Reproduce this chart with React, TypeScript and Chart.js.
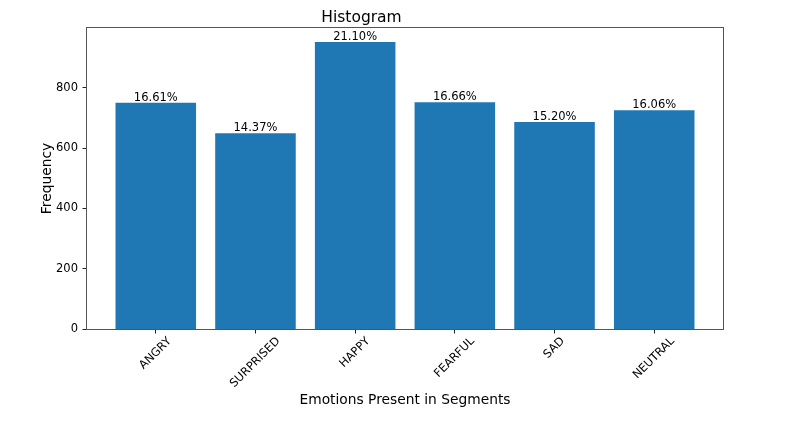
import React, { useEffect, useRef } from "react";
import { Chart, registerables } from "chart.js";

Chart.register(...registerables);

const categories = ["ANGRY", "SURPRISED", "HAPPY", "FEARFUL", "SAD", "NEUTRAL"];
const frequencies = [749, 648, 951, 751, 685, 724];
const yTickValues = [0, 200, 400, 600, 800];
const chartTitle = "Histogram";
const xAxisTitle = "Emotions Present in Segments";
const yAxisTitle = "Frequency";

const FONT = "'DejaVu Sans', 'Liberation Sans', sans-serif";
const BAR_COLOR = "#1f77b4";

export default function App() {
  const ref = useRef<HTMLCanvasElement>(null);

  useEffect(() => {
    const canvas = ref.current;
    if (!canvas) return;
    const total = frequencies.reduce((a, b) => a + b, 0);
    const n = categories.length;
    const xMargin = (n - 1 + 0.8) * 0.05;
    const xMin = -0.4 - xMargin;
    const xMax = n - 1 + 0.4 + xMargin;
    const yMax = Math.max(...frequencies) * 1.05;

    const framePlugin = {
      id: "frame",
      afterDatasetsDraw(chart: any) {
        const { ctx, chartArea: a } = chart;
        ctx.save();
        ctx.strokeStyle = "#555";
        ctx.lineWidth = 1;
        ctx.strokeRect(a.left - 0.5, a.top - 0.5, a.right - a.left + 1, a.bottom - a.top + 1);
        ctx.restore();
      },
    };

    const valueLabelPlugin = {
      id: "valueLabels",
      afterDatasetsDraw(chart: any) {
        const { ctx } = chart;
        const meta = chart.getDatasetMeta(0);
        const fs = 11.5;
        ctx.save();
        ctx.font = `${fs}px ${FONT}`;
        ctx.fillStyle = "#000";
        ctx.textAlign = "center";
        ctx.textBaseline = "alphabetic";
        meta.data.forEach((bar: any, i: number) => {
          const pct = ((frequencies[i] / total) * 100).toFixed(2) + "%";
          ctx.fillText(pct, bar.x, bar.y - 0.236 * fs);
        });
        ctx.restore();
      },
    };

    const xLabelPlugin = {
      id: "xLabels",
      afterDraw(chart: any) {
        const { ctx, chartArea } = chart;
        const xs = chart.scales.x;
        const fs = 11.5;
        ctx.save();
        ctx.font = `${fs}px ${FONT}`;
        ctx.fillStyle = "#000";
        ctx.textAlign = "center";
        ctx.textBaseline = "alphabetic";
        categories.forEach((c, i) => {
          const px = xs.getPixelForValue(i);
          const w = ctx.measureText(c).width;
          const h = 1.164 * fs;
          const d = (w + h) * Math.SQRT1_2;
          const cy = chartArea.bottom + 5 + d / 2;
          ctx.save();
          ctx.translate(px - 1, cy);
          ctx.rotate(-Math.PI / 4);
          ctx.fillText(c, 0, 0.346 * fs);
          ctx.restore();
        });
        ctx.restore();
      },
    };

    const gridOpts = {
      drawOnChartArea: false,
      drawTicks: true,
      tickLength: 4.5,
      tickColor: "#222",
      lineWidth: 1,
      offset: false,
    };

    const chart = new Chart(canvas, {
      type: "bar",
      data: {
        datasets: [
          {
            data: frequencies.map((v, i) => ({ x: i, y: v })),
            backgroundColor: BAR_COLOR,
            borderWidth: 0,
            inflateAmount: 0.4,
            categoryPercentage: 1,
            barPercentage: 0.8,
          },
        ],
      },
      options: {
        responsive: false,
        animation: false,
        devicePixelRatio: 1,
        layout: { padding: { left: 0, right: 83, top: 0, bottom: 0 } },
        plugins: {
          legend: { display: false },
          tooltip: { enabled: false },
          title: {
            display: true,
            text: chartTitle,
            color: "#000",
            font: { family: FONT, size: 15.5, weight: "normal", lineHeight: "18px" },
            padding: { top: 9, bottom: 1 },
          },
        },
        scales: {
          x: {
            type: "linear",
            position: "bottom",
            offset: false,
            min: xMin,
            max: xMax,
            afterBuildTicks: (s: any) => {
              s.ticks = categories.map((_, i) => ({ value: i }));
            },
            afterFit: (s: any) => {
              s.height = 101;
            },
            ticks: { display: false },
            grid: gridOpts,
            border: { display: false },
            title: {
              display: true,
              text: xAxisTitle,
              color: "#000",
              font: { family: FONT, size: 13.8, weight: "normal" },
              padding: { top: 0, bottom: 21.5 },
            },
          },
          y: {
            type: "linear",
            min: 0,
            max: yMax,
            afterBuildTicks: (s: any) => {
              s.ticks = yTickValues.map((v) => ({ value: v }));
            },
            afterFit: (s: any) => {
              s.width = 87;
            },
            ticks: {
              color: "#000",
              font: { family: FONT, size: 11.5 },
              padding: 4.5,
            },
            grid: gridOpts,
            border: { display: false },
            title: {
              display: true,
              text: yAxisTitle,
              color: "#000",
              font: { family: FONT, size: 13.8, weight: "normal" },
              padding: { top: 39, bottom: 0 },
            },
          },
        },
      },
      plugins: [framePlugin, valueLabelPlugin, xLabelPlugin],
    } as any);

    return () => chart.destroy();
  }, []);

  return (
    <div style={{ position: "absolute", left: 0, top: 0, width: 806, height: 430, background: "#fff" }}>
      <canvas ref={ref} width={806} height={430} style={{ width: 806, height: 430, display: "block" }} />
    </div>
  );
}
